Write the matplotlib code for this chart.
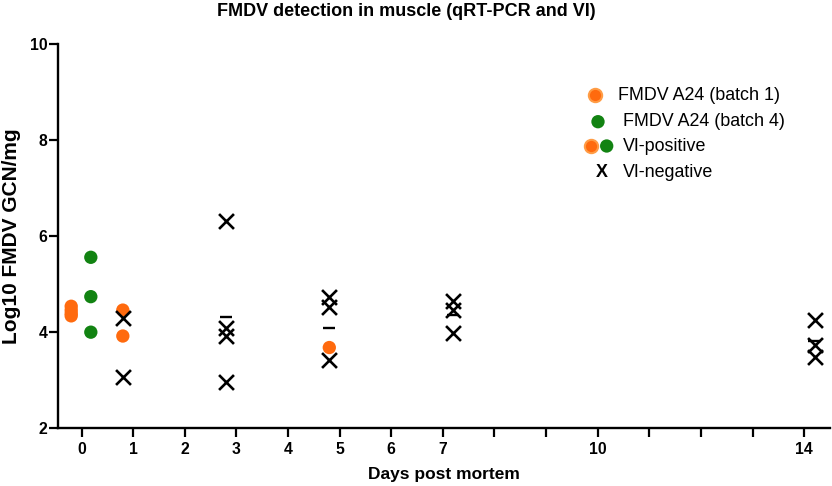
import numpy as np
import pandas as pd
import matplotlib
matplotlib.use("Agg")
import matplotlib.pyplot as plt

plt.rcParams['font.family'] = ['Liberation Sans', 'DejaVu Sans']

# VI-positive, batch 1 (orange)
b1_x = [-0.2, -0.2, -0.2, -0.2, 0.8, 0.8, 4.8]
b1_y = [4.53, 4.45, 4.38, 4.33, 4.45, 3.91, 3.67]
# VI-positive, batch 4 (green)
b4_x = [0.18, 0.18, 0.18]
b4_y = [5.55, 4.73, 3.99]
# VI-negative (crosses)
neg_x = [0.8, 0.8, 2.8, 2.8, 2.8, 2.8, 4.8, 4.8, 4.8, 7.2, 7.2, 7.2, 14.2, 14.2, 14.2]
neg_y = [4.28, 3.06, 6.31, 4.07, 3.90, 2.96, 4.73, 4.51, 3.41, 4.63, 4.45, 3.97, 4.24, 3.72, 3.47]

xticks = list(range(0, 15))
xtick_labels = ['0', '1', '2', '3', '4', '5', '6', '7', '', '', '10', '', '', '', '14']
yticks = [2, 4, 6, 8, 10]

orange = '#FF6A0E'
orange_ring = '#FF9C45'
green = '#128312'

fig = plt.figure(figsize=(8.32, 4.86), dpi=100)
ax = fig.add_axes([58.3 / 832, 1 - 427.7 / 486, (830 - 58.3) / 832, 384 / 486])

# group means (drawn as short dashes), for columns with VI-negative points
allpts = pd.DataFrame({'x': b1_x + b4_x + neg_x, 'y': b1_y + b4_y + neg_y})
means = allpts[allpts.x.isin(neg_x)].groupby('x').y.mean()
ax.hlines(means.values, means.index - 0.12, means.index + 0.12,
          color='black', lw=1.7, zorder=2)

ax.scatter(b1_x, b1_y, s=92, color=orange, edgecolors='none', zorder=3)
ax.scatter(b4_x, b4_y, s=92, color=green, edgecolors='none', zorder=3)
ax.scatter(neg_x, neg_y, s=115, marker='x', color='black', linewidths=1.9, zorder=4)

ax.set_xlim(-0.45, 14.5)
ax.set_ylim(2, 10)
ax.set_xticks(xticks)
ax.set_xticklabels(xtick_labels)
ax.set_yticks(yticks)
for s in ['top', 'right']:
    ax.spines[s].set_visible(False)
for s in ['left', 'bottom']:
    ax.spines[s].set_linewidth(1.7)
ax.tick_params(axis='both', length=6.5, width=1.6, labelsize=11.3)
ax.tick_params(axis='x', pad=4)
ax.tick_params(axis='y', pad=1.5)
for lab in ax.get_xticklabels() + ax.get_yticklabels():
    lab.set_fontweight('bold')

ax.set_xlabel('Days post mortem', fontsize=12.5, fontweight='bold', labelpad=7)
ax.set_ylabel('Log10 FMDV GCN/mg', fontsize=15, fontweight='bold', labelpad=6)

fig.text(406 / 832, 1 - 11 / 486, 'FMDV detection in muscle (qRT-PCR and VI)',
         ha='center', va='center', fontsize=13, fontweight='bold')

# legend, placed by hand
def axf(px, py):
    return (px - 58.3) / 771.7, (427.7 - py) / 384

tr = ax.transAxes
lx, ly = axf(595, 95)
ax.scatter([lx], [ly], s=92, color=orange, edgecolors=orange_ring, linewidths=1.5,
           transform=tr, clip_on=False, zorder=5)
tx, ty = axf(618, 95)
ax.text(tx, ty, 'FMDV A24 (batch 1)', transform=tr, fontsize=12.9, va='center')

lx, ly = axf(598, 121.7)
ax.scatter([lx], [ly], s=92, color=green, edgecolors='none', transform=tr, clip_on=False, zorder=5)
tx, ty = axf(623, 121.7)
ax.text(tx, ty, 'FMDV A24 (batch 4)', transform=tr, fontsize=12.9, va='center')

lx, ly = axf(590.7, 146)
ax.scatter([lx], [ly], s=92, color=orange, edgecolors=orange_ring, linewidths=1.5,
           transform=tr, clip_on=False, zorder=5)
lx, ly = axf(606.7, 146)
ax.scatter([lx], [ly], s=92, color=green, edgecolors='none', transform=tr, clip_on=False, zorder=5)
tx, ty = axf(622.7, 146)
ax.text(tx, ty, 'VI-positive', transform=tr, fontsize=12.9, va='center')

lx, ly = axf(601.7, 172.7)
ax.text(lx, ly, 'X', transform=tr, fontsize=12.9, fontweight='bold', ha='center', va='center')
tx, ty = axf(623, 172.7)
ax.text(tx, ty, 'VI-negative', transform=tr, fontsize=12.9, va='center')

fig.savefig('out.png', dpi=100)
